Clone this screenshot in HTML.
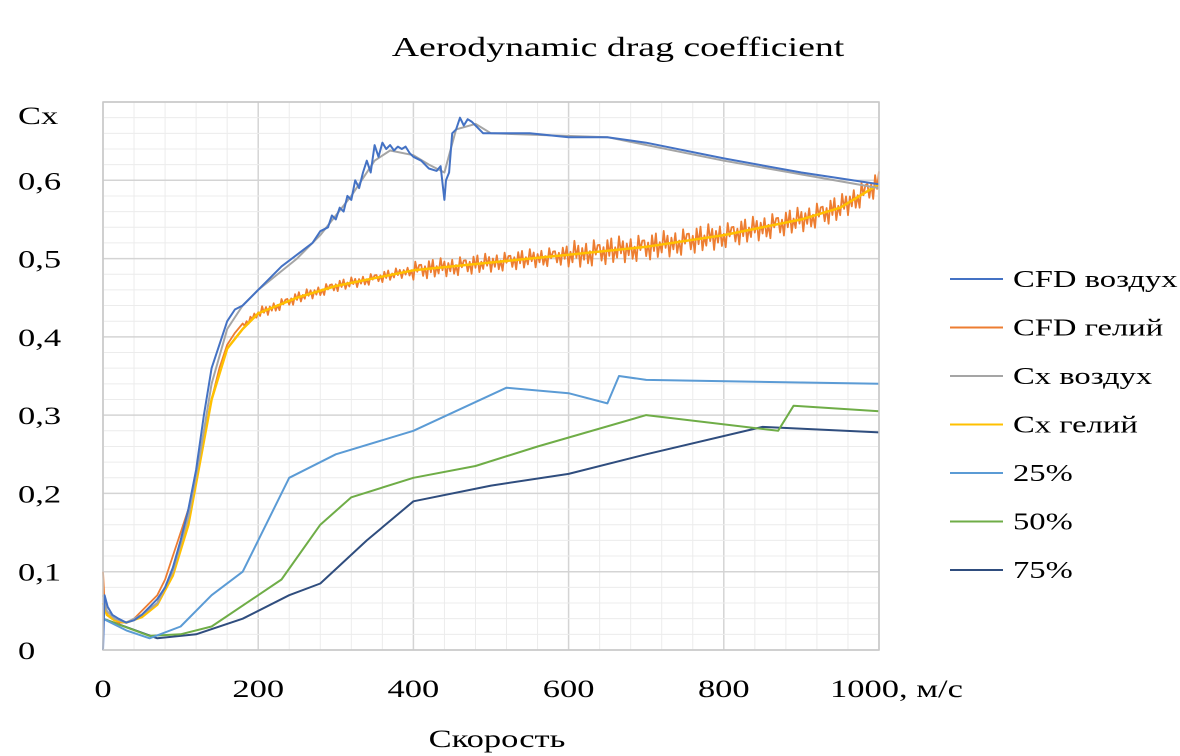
<!DOCTYPE html>
<html><head><meta charset="utf-8">
<style>
html,body{margin:0;padding:0;background:#fff;}
svg{display:block;font-family:"Liberation Serif","DejaVu Serif",serif;}
</style></head>
<body>
<svg id="chart" width="1180" height="756" viewBox="0 0 1180 756" xmlns="http://www.w3.org/2000/svg">
<text transform="translate(618,56) scale(1.4,1)" font-size="27" text-anchor="middle">Aerodynamic drag coefficient</text>
<g id="grid"></g>
<g id="series"></g>
<g id="axes"></g>
<g id="legend"></g>
<text transform="translate(18,124) scale(1.38,1)" font-size="25">Cx</text>
<text transform="translate(497,747) scale(1.38,1)" font-size="25" text-anchor="middle">Скорость</text>
</svg>
<script>
const xTicks = [0, 200, 400, 600, 800, 1000];
const xTickLabels = ["0", "200", "400", "600", "800", "1000, м/с"];
const yTicks = [0, 0.1, 0.2, 0.3, 0.4, 0.5, 0.6];
const yTickLabels = ["0", "0,1", "0,2", "0,3", "0,4", "0,5", "0,6"];

const cfdAirX = [0,2,6,12,20,30,40,50,60,70,80,90,100,110,120,130,140,150,160,170,180,195,210,230,250,270,280,290,295,300,305,310,315,320,325,330,335,340,345,350,355,360,365,370,375,380,385,390,395,400,410,420,430,435,440,442,446,450,455,460,465,470,475,480,490,500,550,600,650,700,800,900,1000];
const cfdAirY = [0.0,0.07,0.055,0.045,0.04,0.035,0.038,0.045,0.055,0.065,0.08,0.105,0.14,0.18,0.23,0.3,0.36,0.39,0.42,0.435,0.44,0.455,0.47,0.49,0.505,0.52,0.535,0.54,0.555,0.55,0.565,0.56,0.58,0.575,0.6,0.59,0.61,0.625,0.61,0.645,0.63,0.648,0.64,0.645,0.638,0.643,0.64,0.643,0.635,0.63,0.625,0.615,0.612,0.618,0.575,0.6,0.61,0.66,0.665,0.68,0.67,0.678,0.675,0.67,0.66,0.66,0.66,0.655,0.655,0.648,0.628,0.61,0.595];
const cxAirX = [0,5,15,30,50,70,90,110,125,140,160,180,200,250,280,320,350,370,400,420,440,455,480,500,650,800,1000];
const cxAirY = [0.07,0.05,0.04,0.035,0.045,0.06,0.1,0.17,0.25,0.34,0.41,0.44,0.46,0.5,0.53,0.58,0.625,0.638,0.632,0.62,0.61,0.665,0.672,0.66,0.655,0.625,0.59];
const cfdHeX = [0,2,6,12,20,30,40,50,60,70,80,90,100,110,120,130,140,150,160,170,180,200,250,300,400,500,600,700,800,900,950,1000];
const cfdHeY = [0.1,0.06,0.045,0.04,0.035,0.035,0.04,0.05,0.06,0.07,0.09,0.12,0.15,0.18,0.22,0.27,0.32,0.36,0.39,0.405,0.415,0.43,0.45,0.465,0.485,0.495,0.505,0.515,0.53,0.55,0.565,0.597];
const cfdHeJitter = [0.5,-0.7,0.3,-1,0.8,-0.4,0.9,-0.9,0.2,-0.6,1,-0.3,0.6,-1,0.4,-0.5,0.7,-0.8,0.1,-1,0.9,-0.2,0.5];
const cfdHeNoiseAmp = [0.004,0.007,0.012,0.017,0.016];
const cxHeX = [0,5,15,30,50,70,90,110,125,140,160,180,200,250,300,400,500,600,700,800,900,950,1000];
const cxHeY = [0.06,0.045,0.038,0.035,0.042,0.058,0.095,0.16,0.24,0.32,0.385,0.41,0.43,0.45,0.465,0.485,0.495,0.505,0.515,0.53,0.55,0.565,0.595];
const p25X = [0,30,60,100,140,180,240,300,400,520,600,650,665,700,1000];
const p25Y = [0.04,0.025,0.015,0.03,0.07,0.1,0.22,0.25,0.28,0.335,0.328,0.315,0.35,0.345,0.34];
const p50X = [0,60,100,140,200,230,280,320,400,480,560,700,870,890,1000];
const p50Y = [0.04,0.018,0.02,0.03,0.07,0.09,0.16,0.195,0.22,0.235,0.26,0.3,0.28,0.312,0.305];
const p75X = [0,70,120,180,240,280,340,400,500,600,700,850,1000];
const p75Y = [0.04,0.015,0.02,0.04,0.07,0.085,0.14,0.19,0.21,0.225,0.25,0.285,0.278];

const L=103,R=879,T=102,B=650;
const sx=v=>L+(v/1000)*(R-L);
const sy=v=>B-(v/0.7)*(B-T);
const NS="http://www.w3.org/2000/svg";
function mk(tag,attrs,parent){const e=document.createElementNS(NS,tag);for(const k in attrs)e.setAttribute(k,attrs[k]);parent.appendChild(e);return e;}
const grid=document.getElementById('grid');
for(let v=0;v<=1000;v+=40){
  const major=v%200===0;
  const ln=mk('line',{x1:sx(v),x2:sx(v),y1:T,y2:B,stroke:major?'#d4d4d4':'#ececec','stroke-width':major?1.5:1},grid);
  
  
}
for(let i=0;i<=35;i++){
  const v=i*0.02; const major=i%5===0;
  const ln=mk('line',{x1:L,x2:R,y1:sy(v),y2:sy(v),stroke:major?'#d4d4d4':'#ececec','stroke-width':major?1.5:1},grid);
  
  
}
const axes=document.getElementById('axes');
const fr=mk('rect',{x:L,y:T,width:R-L,height:B-T,fill:'none',stroke:'#c8c8c8','stroke-width':1.5},axes);


xTicks.forEach((v,i)=>{
  const tx=i===5?830:sx(v);
  const t=mk('text',{transform:'translate('+tx+',697) scale(1.38,1)','font-size':25,'text-anchor':i===5?'start':'middle'},axes);
  t.textContent=xTickLabels[i];
  
  
});
yTicks.forEach((v,i)=>{
  const t=mk('text',{transform:'translate(18,'+(sy(v)+9)+') scale(1.38,1)','font-size':25},axes);
  t.textContent=yTickLabels[i];
  
  
});
const series=document.getElementById('series');
function line(xs,ys,color,w,name){
  const d=xs.map((x,i)=>(i?'L':'M')+sx(x).toFixed(1)+','+sy(ys[i]).toFixed(1)).join('');
  const p=mk('path',{d:d,fill:'none',stroke:color,'stroke-width':w,'stroke-linejoin':'round'},series);
  
  
}
function interp(xs,ys,x){for(let i=1;i<xs.length;i++){if(x<=xs[i]){const t=(x-xs[i-1])/(xs[i]-xs[i-1]);return ys[i-1]+t*(ys[i]-ys[i-1]);}}return ys[ys.length-1];}
line(p75X,p75Y,'#2f4d7e',2,'series-75');
line(p50X,p50Y,'#6fad47',2,'series-50');
line(p25X,p25Y,'#5b9bd5',2,'series-25');
(function(){
  const xs=[],ys=[];
  for(let i=0;i<cfdHeX.length;i++){if(cfdHeX[i]<180){xs.push(cfdHeX[i]);ys.push(cfdHeY[i]);}}
  let k=0;
  for(let x=180;x<=1000;x+=2.5){
    const a=cfdHeNoiseAmp[Math.min(4,Math.floor(x/200))];
    xs.push(x);ys.push(interp(cfdHeX,cfdHeY,x)+a*cfdHeJitter[k%cfdHeJitter.length]);k++;
  }
  line(xs,ys,'#ed7d31',1.8,'series-cfd-helium');
})();
line(cxHeX,cxHeY,'#ffc000',2.5,'series-cx-helium');
line(cxAirX,cxAirY,'#a5a5a5',2,'series-cx-air');
line(cfdAirX,cfdAirY,'#4472c4',2,'series-cfd-air');
const legend=document.getElementById('legend');
const items=[['CFD воздух','#4472c4'],['CFD гелий','#ed7d31'],['Cx воздух','#a5a5a5'],['Cx гелий','#ffc000'],['25%','#5b9bd5'],['50%','#6fad47'],['75%','#2f4d7e']];
items.forEach((it,i)=>{
  const y=279+i*48.5;
  const g=mk('g',{},legend);
  
  
  mk('line',{x1:950,x2:1003,y1:y,y2:y,stroke:it[1],'stroke-width':2},g);
  const t=mk('text',{transform:'translate(1013,'+(y+8)+') scale(1.36,1)','font-size':24},g);
  t.textContent=it[0];
});
</script>
</body></html>
